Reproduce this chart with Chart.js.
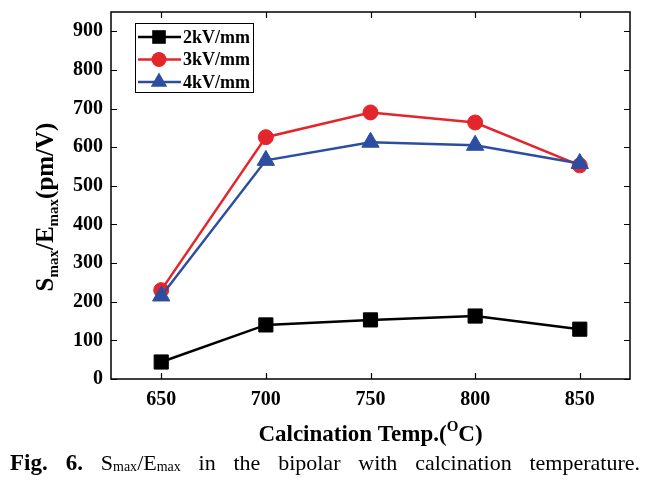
<!DOCTYPE html>
<html><head><meta charset="utf-8">
<script src="https://cdn.jsdelivr.net/npm/chart.js@4"></script>
<style>
html,body{margin:0;padding:0;background:#fff;}
#wrap{position:relative;width:651px;height:483px;overflow:hidden;}
#c{position:absolute;left:0;top:0;}
#cap{position:absolute;left:10px;top:449px;width:630px;font-family:'Liberation Serif',serif;font-size:22px;line-height:28px;color:#000;text-align:justify;text-align-last:justify;}
#cap b{font-size:23px;}
#cap sub{font-size:14px;vertical-align:-1px;}
</style></head>
<body><div id="wrap"><canvas id="c" width="651" height="483"></canvas>
<div id="cap"><b>Fig. 6.</b> S<sub>max</sub>/E<sub>max</sub> in the bipolar with calcination temperature.</div></div>
<script>
const temps = [650, 700, 750, 800, 850];
const s2kV = [44, 140, 153, 163, 129];
const s3kV = [230, 626, 690, 664, 553];
const s4kV = [215, 566, 613, 605, 558];
const xTicks = [650, 700, 750, 800, 850];
const yTicks = [0, 100, 200, 300, 400, 500, 600, 700, 800, 900];
const labels = ['2kV/mm', '3kV/mm', '4kV/mm'];

const FONT = "'Liberation Serif', serif";
const RED = '#e3262b', BLUE = '#2d4ea0', BLACK = '#000000';

function pts(vals){ return temps.map((t,i)=>({x:t, y:vals[i]})); }

function drawRich(ctx, parts, x, y, align){
  let total = 0;
  parts.forEach(p=>{ ctx.font = 'bold '+p[1]+'px '+FONT; total += ctx.measureText(p[0]).width; });
  let cx = align==='center' ? x - total/2 : x;
  parts.forEach(p=>{ ctx.font = 'bold '+p[1]+'px '+FONT; ctx.fillText(p[0], cx, y + p[2]); cx += ctx.measureText(p[0]).width; });
}

function marker(ctx, style, x, y, color){
  ctx.fillStyle = color; ctx.strokeStyle = color; ctx.lineWidth = 1;
  ctx.beginPath();
  if(style==='rect'){ const s=6.8; ctx.rect(x-s,y-s,2*s,2*s); }
  else if(style==='circle'){ ctx.arc(x,y,7.5,0,Math.PI*2); }
  else { const r=9.5; ctx.moveTo(x, y-r); ctx.lineTo(x+Math.sin(2*Math.PI/3)*r, y+r/2); ctx.lineTo(x-Math.sin(2*Math.PI/3)*r, y+r/2); ctx.closePath(); }
  ctx.fill();
}

const frame = {
  id: 'frame',
  afterDraw(chart){
    const {ctx, chartArea:a, scales:{x, y}} = chart;
    ctx.save();
    ctx.strokeStyle = '#000'; ctx.lineWidth = 1.5;
    ctx.strokeRect(a.left, a.top, a.right-a.left, a.bottom-a.top);
    const L = 6;
    ctx.beginPath();
    x.ticks.forEach(t=>{ const px = Math.round(x.getPixelForValue(t.value))+0.5;
      ctx.moveTo(px, a.bottom); ctx.lineTo(px, a.bottom-L);
      ctx.moveTo(px, a.top); ctx.lineTo(px, a.top+L); });
    y.ticks.forEach(t=>{ const py = Math.round(y.getPixelForValue(t.value))+0.5;
      ctx.moveTo(a.left, py); ctx.lineTo(a.left+L, py);
      ctx.moveTo(a.right, py); ctx.lineTo(a.right-L, py); });
    ctx.lineWidth = 1.2; ctx.stroke();

    // legend
    const bx=135, by=23, bw=118, bh=69;
    ctx.fillStyle='#fff'; ctx.fillRect(bx,by,bw,bh);
    ctx.lineWidth=1; ctx.strokeStyle='#000'; ctx.strokeRect(bx+0.5,by+0.5,bw,bh);
    chart.data.datasets.forEach((ds,i)=>{
      const ry = by + 14 + i*22.5;
      ctx.strokeStyle = ds.borderColor; ctx.lineWidth = 2.5;
      ctx.beginPath(); ctx.moveTo(bx+3, ry); ctx.lineTo(bx+46, ry); ctx.stroke();
      marker(ctx, ds.pointStyle, bx+24, ry, ds.borderColor);
      ctx.fillStyle='#000'; ctx.font='bold 18px '+FONT; ctx.textAlign='left'; ctx.textBaseline='middle';
      ctx.fillText(ds.label, bx+48, ry+1);
    });

    // axis titles
    ctx.fillStyle='#000'; ctx.textBaseline='alphabetic'; ctx.textAlign='left';
    drawRich(ctx, [['Calcination Temp.(',23,0],['O',15,-10],['C)',23,0]], (a.left+a.right)/2, 441, 'center');
    ctx.save();
    ctx.translate(53, 207); ctx.rotate(-Math.PI/2);
    drawRich(ctx, [['S',25,0],['max',15,5],['/E',25,0],['max',15,5],['(pm/V)',25,0]], 0, 0, 'center');
    ctx.restore();
    ctx.restore();
  }
};

const tickFont = {family: FONT, size: 20, weight: 'bold'};

new Chart(document.getElementById('c'), {
  type: 'line',
  data: { datasets: [
    {label: labels[0], data: pts(s2kV), order: 2, borderColor: BLACK, backgroundColor: BLACK, pointStyle: 'rect', pointRadius: 10, borderWidth: 2.5, pointBorderWidth: 1},
    {label: labels[1], data: pts(s3kV), order: 1, borderColor: RED, backgroundColor: RED, pointStyle: 'circle', pointRadius: 7.5, borderWidth: 2.5, pointBorderWidth: 1},
    {label: labels[2], data: pts(s4kV), order: 0, borderColor: BLUE, backgroundColor: BLUE, pointStyle: 'triangle', pointRadius: 10, borderWidth: 2.5, pointBorderWidth: 1}
  ]},
  options: {
    responsive: false, animation: false,
    layout: {padding: {left: 0, top: 12, right: 21, bottom: 0}},
    plugins: {legend: {display: false}, tooltip: {enabled: false}},
    elements: {line: {tension: 0}},
    scales: {
      x: {type: 'linear', min: 626, max: 874,
        afterBuildTicks: s=>{ s.ticks = xTicks.map(v=>({value:v})); },
        afterFit: s=>{ s.height = 104; s.paddingLeft = 0; s.paddingRight = 0; },
        grid: {display: false, drawTicks: false}, border: {display: false},
        ticks: {font: tickFont, color: '#000', padding: 9}},
      y: {type: 'linear', min: 0, max: 950,
        afterBuildTicks: s=>{ s.ticks = yTicks.map(v=>({value:v})); },
        afterFit: s=>{ s.width = 111; s.paddingTop = 0; s.paddingBottom = 0; },
        grid: {display: false, drawTicks: false}, border: {display: false},
        ticks: {font: tickFont, color: '#000', padding: 8}}
    }
  },
  plugins: [frame]
});
</script></body></html>
